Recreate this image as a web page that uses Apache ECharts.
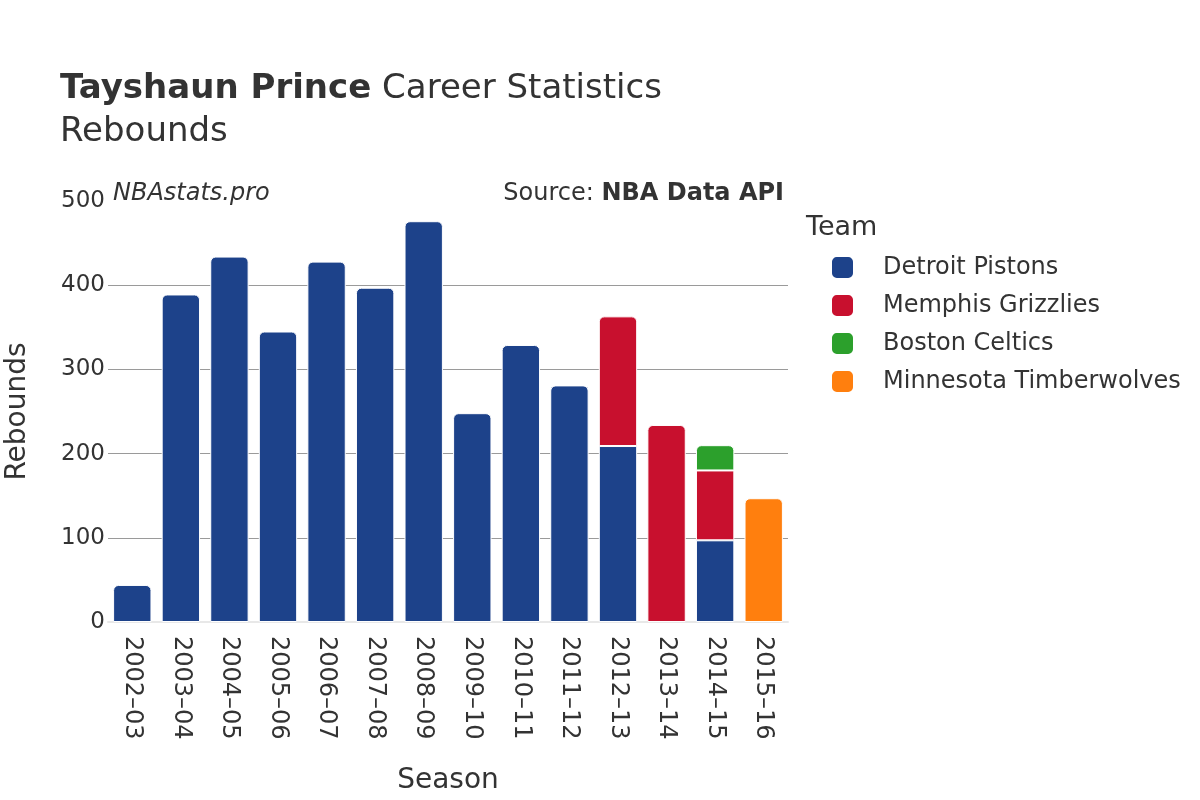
<!DOCTYPE html>
<html><head><meta charset="utf-8">
<script src="https://cdn.jsdelivr.net/npm/echarts@6/dist/echarts.min.js"></script>
<style>html,body{margin:0;padding:0;background:#fff}#c{width:1200px;height:800px}</style>
</head><body><div id="c"></div>
<script>
const seasons = ['2002\u201303','2003\u201304','2004\u201305','2005\u201306','2006\u201307','2007\u201308','2008\u201309','2009\u201310','2010\u201311','2011\u201312','2012\u201313','2013\u201314','2014\u201315','2015\u201316'];
const teams = ['Detroit Pistons','Memphis Grizzlies','Boston Celtics','Minnesota Timberwolves'];
const teamColors = ['#1d428a','#c8102e','#2ca02c','#ff7f0e'];
const detroit   = [44,389,434,345,428,397,476,248,329,281,209,null,97,null];
const memphis   = [null,null,null,null,null,null,null,null,null,null,154,234,83,null];
const boston    = [null,null,null,null,null,null,null,null,null,null,null,null,30,null];
const minnesota = [null,null,null,null,null,null,null,null,null,null,null,null,null,147];
const yTicks = [0,100,200,300,400,500];

const allData = [detroit, memphis, boston, minnesota];
const topIdx = seasons.map((_, i) => { let t = -1; allData.forEach((d, s) => { if (d[i] != null) t = s; }); return t; });

const series = teams.map((name, s) => ({
  name, type: 'bar', stack: 'total', barWidth: '79%',
  itemStyle: { color: teamColors[s], borderColor: '#fff', borderWidth: 1 },
  data: allData[s].map((v, i) => v == null ? null : { value: v, itemStyle: { borderRadius: topIdx[i] === s ? [5,5,0,0] : 0 } })
}));

const F = 'DejaVu Sans';
const chart = echarts.init(document.getElementById('c'));
chart.setOption({
  animation: false,
  textStyle: { fontFamily: F },
  title: [
    { text: '{b|Tayshaun Prince} Career Statistics\nRebounds', left: 55, top: 63,
      textStyle: { fontFamily: F, fontSize: 34, color: '#333', fontWeight: 'normal', lineHeight: 43,
        rich: { b: { fontFamily: F, fontSize: 34, fontWeight: 'bold', color: '#333' } } } },
    { text: 'NBAstats.pro', left: 108, top: 177, textStyle: { fontFamily: F, fontSize: 24, fontStyle: 'italic', fontWeight: 'normal', color: '#333' } },
    { text: 'Source: {b|NBA Data API}', right: 411, top: 177,
      textStyle: { fontFamily: F, fontSize: 24, fontWeight: 'normal', color: '#333',
        rich: { b: { fontFamily: F, fontSize: 24, fontWeight: 'bold', color: '#333' } } } },
    { text: 'Team', left: 801, top: 209, textStyle: { fontFamily: F, fontSize: 27, fontWeight: 'normal', color: '#333' } }
  ],
  legend: {
    orient: 'vertical', left: 825, top: 250, itemWidth: 23, itemHeight: 23, itemGap: 13,
    icon: 'roundRect',
    textStyle: { fontFamily: F, fontSize: 24, color: '#333', padding: [0,0,0,24] },
    data: teams
  },
  grid: { left: 108, right: 412, top: 201, bottom: 178, outerBoundsMode: 'none' },
  xAxis: {
    type: 'category', data: seasons,
    name: 'Season', nameLocation: 'middle', nameGap: 145,
    nameTextStyle: { fontFamily: F, fontSize: 28, color: '#333' },
    axisLine: { show: true, lineStyle: { color: '#e8e8e8', width: 2 } },
    axisTick: { show: false },
    axisLabel: { rotate: -90, fontSize: 24, color: '#333', margin: 14 }
  },
  yAxis: {
    type: 'value', min: 0, max: 500, interval: 100,
    name: 'Rebounds', nameLocation: 'middle', nameGap: 76,
    nameTextStyle: { fontFamily: F, fontSize: 28, color: '#333' },
    axisLine: { show: false }, axisTick: { show: false },
    axisLabel: { fontSize: 23, color: '#333', margin: 3 },
    splitLine: { show: true, lineStyle: { color: ['transparent','#9a9a9a','#9a9a9a','#9a9a9a','#9a9a9a','transparent'], width: 1 } }
  },
  series
});
</script></body></html>
